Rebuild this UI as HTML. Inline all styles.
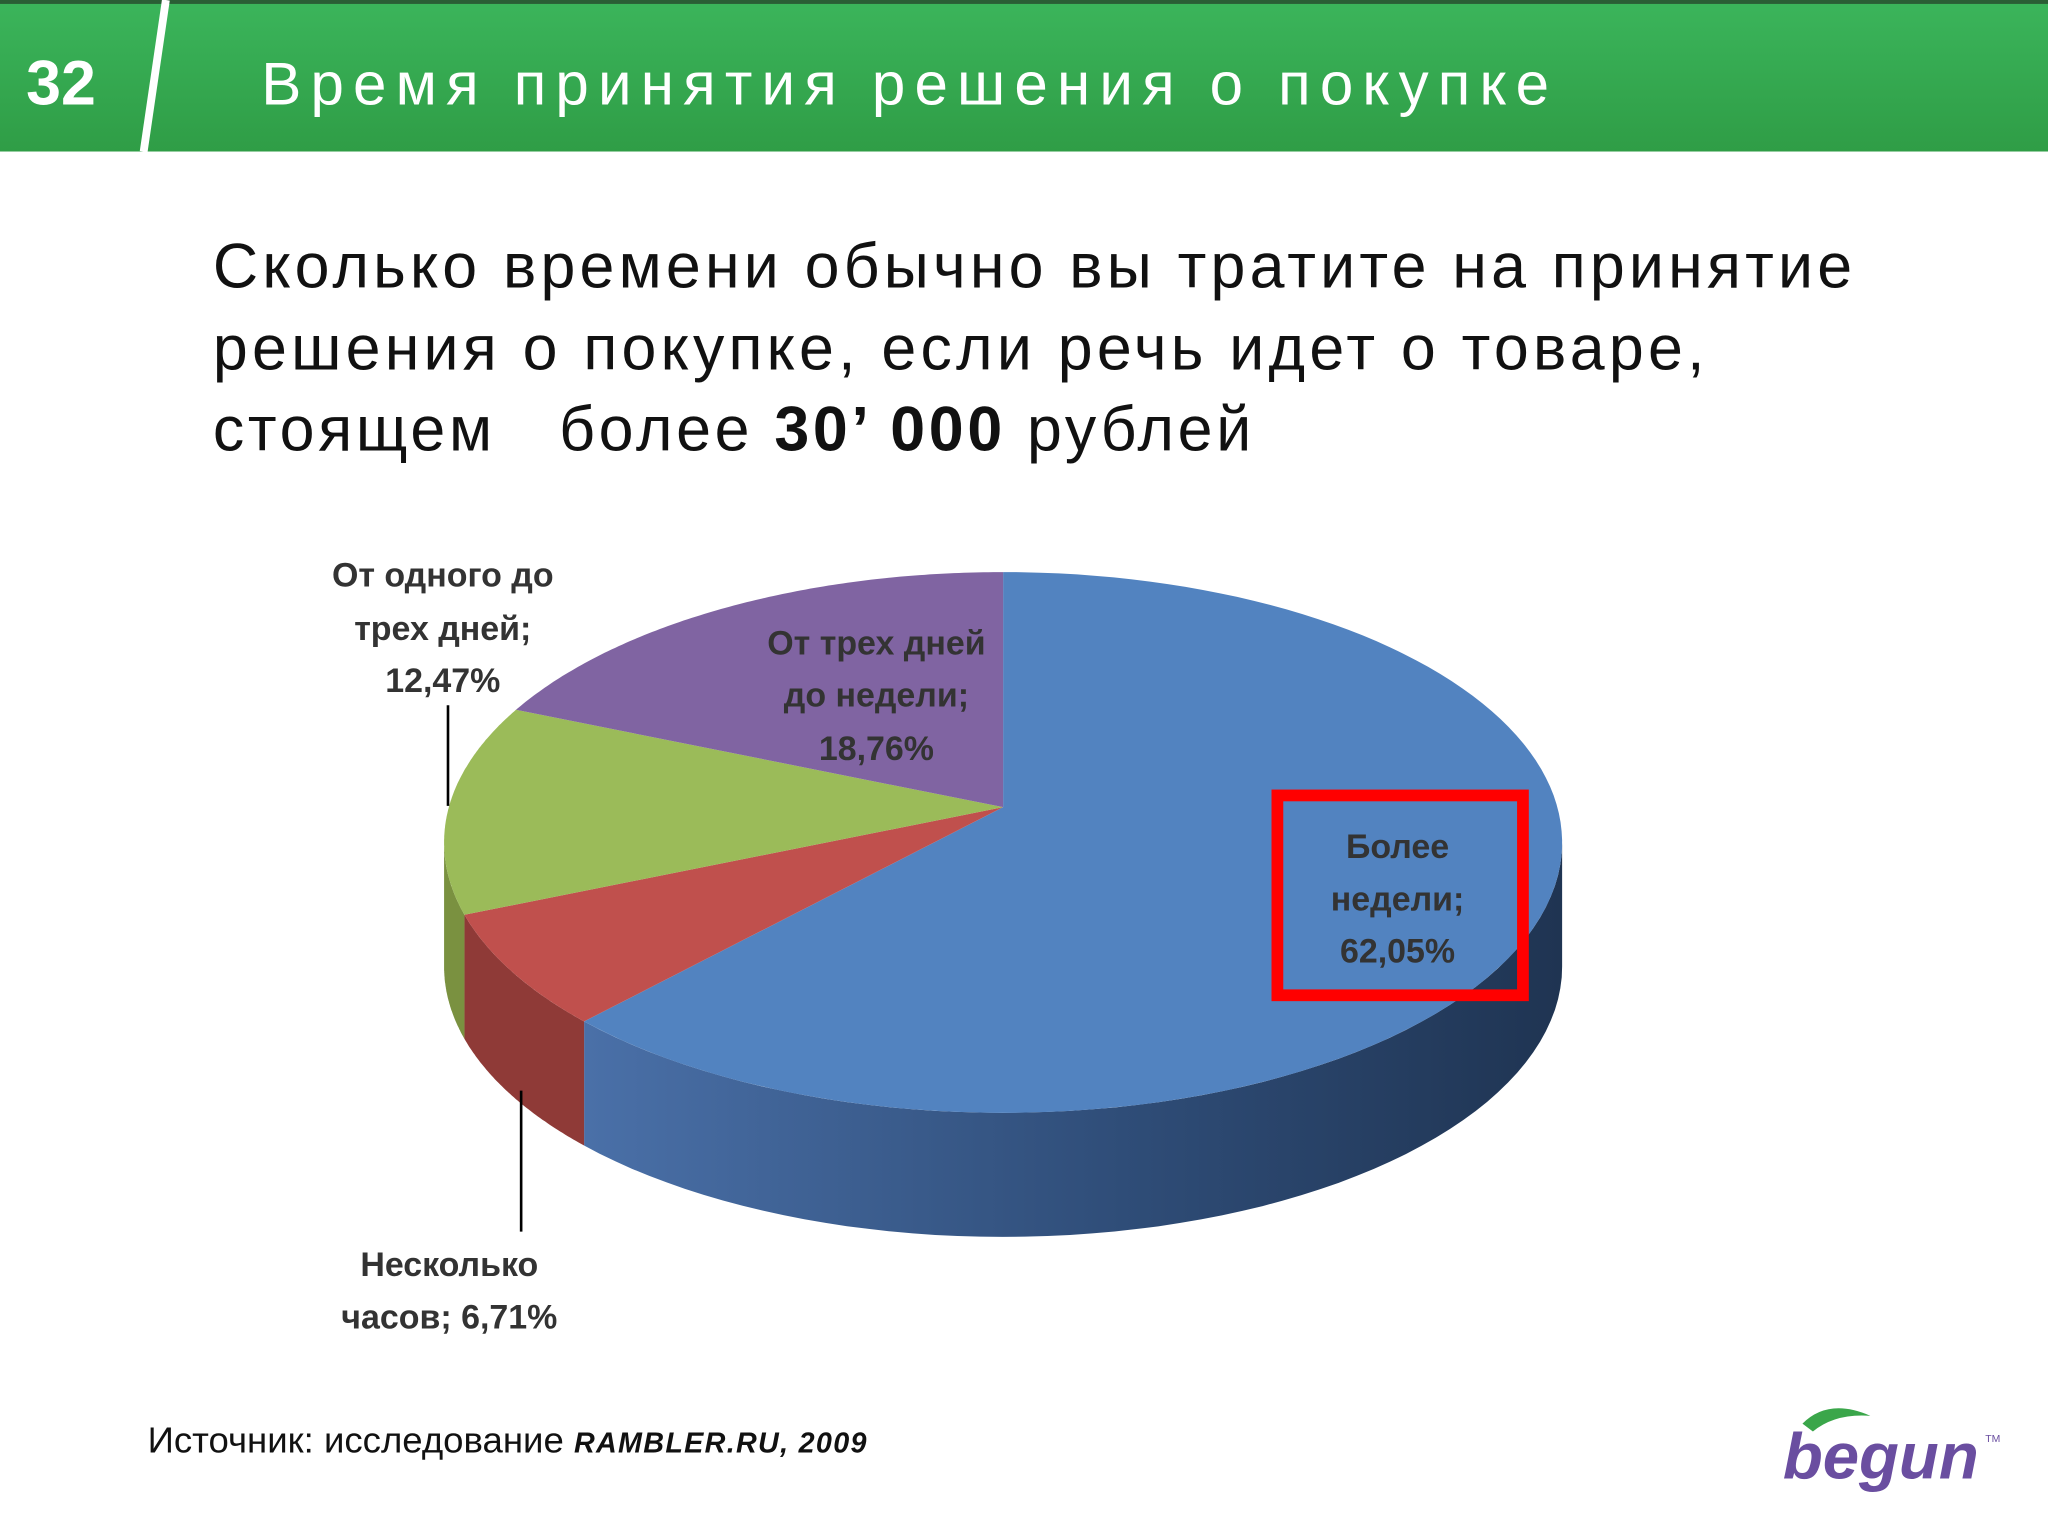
<!DOCTYPE html>
<html><head><meta charset="utf-8"><style>
html,body{margin:0;padding:0;background:#fff;}
svg{display:block;}
</style></head><body>
<svg width="2048" height="1536" viewBox="0 0 1568 1176" xmlns="http://www.w3.org/2000/svg" font-family="'Liberation Sans', 'DejaVu Sans', sans-serif">
<defs>
<linearGradient id="hdr" x1="0" y1="0" x2="0" y2="1"><stop offset="0" stop-color="#3bb55b"/><stop offset="1" stop-color="#2f9d46"/></linearGradient>
<linearGradient id="blueSide" x1="0" y1="0" x2="1" y2="0"><stop offset="0" stop-color="#4a70a8"/><stop offset="0.55" stop-color="#2f4d78"/><stop offset="1" stop-color="#1f3452"/></linearGradient>
</defs>
<rect x="0" y="0" width="1568" height="116" fill="url(#hdr)"/>
<rect x="0" y="0" width="1568" height="3" fill="#2a5e35"/>
<text x="20" y="80" font-size="48" font-weight="bold" fill="#fff">32</text>
<line x1="127" y1="0" x2="110" y2="116" stroke="#fff" stroke-width="6"/>
<text x="200" y="80" font-size="46" fill="#fff" textLength="986" lengthAdjust="spacing">Время принятия решения о покупке</text>

<g font-size="48" fill="#111">
<text x="163" y="220" textLength="1255" lengthAdjust="spacing">Сколько времени обычно вы тратите на принятие</text>
<text x="163" y="283" textLength="1142" lengthAdjust="spacing">решения о покупке, если речь идет о товаре,</text>
<text x="163" y="345" textLength="795" lengthAdjust="spacing">стоящем&#160;&#160; более <tspan font-weight="bold">30’ 000</tspan> рублей</text>
</g>

<g id="pie"></g>

<g font-size="26" font-weight="bold" fill="#333" text-anchor="middle">
<text x="339" y="449">От одного до</text><text x="339" y="490">трех дней;</text><text x="339" y="530">12,47%</text>
<text x="671" y="501">От трех дней</text><text x="671" y="541">до недели;</text><text x="671" y="582">18,76%</text>
<text x="1070" y="657">Более</text><text x="1070" y="697">недели;</text><text x="1070" y="737">62,05%</text>
<text x="344" y="977">Несколько</text><text x="344" y="1017">часов; 6,71%</text>
</g>
<line x1="343" y1="540" x2="343" y2="617" stroke="#000" stroke-width="2"/>
<line x1="399" y1="835" x2="399" y2="943" stroke="#000" stroke-width="2"/>
<rect x="978" y="609" width="188" height="153" fill="none" stroke="#f00" stroke-width="9"/>

<text x="113" y="1112" font-size="28" fill="#111">Источник: исследование <tspan font-weight="bold" font-size="22" font-style="italic" letter-spacing="1">RAMBLER.RU, 2009</tspan></text>
<g>
<path d="M1380 1090 Q1400 1070 1432 1084 Q1405 1082 1388 1096 Z" fill="#3aa64a"/>
<text x="1365" y="1132" font-size="50" font-weight="bold" font-style="italic" fill="#6a4ea0">begun</text>
<text x="1520" y="1104" font-size="8" fill="#6a4ea0">TM</text>
</g>
</svg>
<script>
const categories = ["Более недели", "Несколько часов", "От одного до трех дней", "От трех дней до недели"];
const values = [62.05, 6.71, 12.47, 18.76];
const topColors = ["#5283c0", "#c0504d", "#9bbb59", "#8064a2"];
const sideColors = ["url(#blueSide)", "#8f3a37", "#7a9140", "#5d4980"];
const NS = "http://www.w3.org/2000/svg";
const g = document.getElementById("pie");
const cx = 768, cy = 645, rx = 428, ry = 207, ax = 768, ay = 618, depth = 95;
function pt(a, d) { return [cx + rx * Math.cos(a), cy + ry * Math.sin(a) + (d || 0)]; }
// map a "true" angle from apex to ellipse parameter (perspective-like apex offset)
const oy = (ay - cy) / ry;
function proj(th) {
  const dx = Math.cos(th), dy = Math.sin(th);
  const b = 2 * oy * dy, c = oy * oy - 1;
  const t = (-b + Math.sqrt(b * b - 4 * c)) / 2;
  return Math.atan2(oy + t * dy, t * dx);
}
function unwrap(a, ref) { while (a < ref - 1e-9) a += 2 * Math.PI; return a; }
const total = values.reduce((a, b) => a + b, 0);
let start = -Math.PI / 2;
const slices = values.map(v => {
  const s = start, e = start + v / total * 2 * Math.PI; start = e;
  let ps = proj(s); if (ps < -Math.PI / 2 - 1e-6) ps += 2 * Math.PI;
  let pe = unwrap(proj(e), ps);
  if (v / total > 0.999) pe = ps + 2 * Math.PI;
  return [ps, pe];
});
// sides
slices.forEach(([s, e], i) => {
  const s2 = Math.max(s, 0), e2 = Math.min(e, Math.PI);
  if (e2 <= s2) return;
  let N = 60, pts = [];
  for (let k = 0; k <= N; k++) pts.push(pt(s2 + (e2 - s2) * k / N));
  let d = "M" + pts.map(p => p[0].toFixed(1) + "," + p[1].toFixed(1)).join("L");
  for (let k = N; k >= 0; k--) { const p = pt(s2 + (e2 - s2) * k / N, depth); d += "L" + p[0].toFixed(1) + "," + p[1].toFixed(1); }
  d += "Z";
  const el = document.createElementNS(NS, "path");
  el.setAttribute("d", d); el.setAttribute("fill", sideColors[i]);
  
  
  g.appendChild(el);
});
// tops
slices.forEach(([s, e], i) => {
  let d = "M" + ax + "," + ay, N = 120;
  for (let k = 0; k <= N; k++) { const p = pt(s + (e - s) * k / N); d += "L" + p[0].toFixed(1) + "," + p[1].toFixed(1); }
  d += "Z";
  const el = document.createElementNS(NS, "path");
  el.setAttribute("d", d); el.setAttribute("fill", topColors[i]);
  
  
  g.appendChild(el);
});
</script>
</body></html>
